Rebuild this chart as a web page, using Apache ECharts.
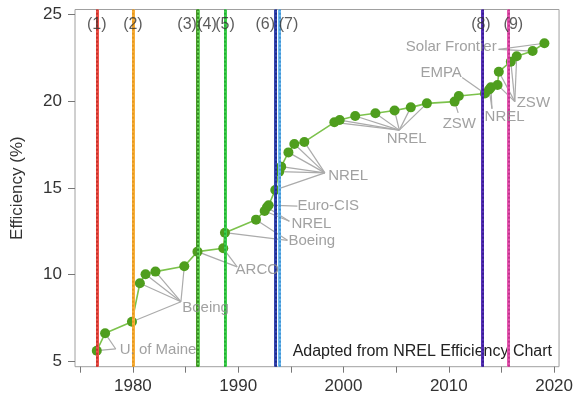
<!DOCTYPE html>
<html><head><meta charset="utf-8">
<script src="https://cdn.jsdelivr.net/npm/echarts@6/dist/echarts.min.js"></script>
<style>html,body{margin:0;padding:0;background:#fff}#c{width:576px;height:400px}</style>
</head><body><div id="c"></div>
<script>
// Record efficiency data points (year, efficiency %)
const years = [1976.57,1977.36,1979.91,1980.66,1981.20,1982.14,1984.88,1986.13,1988.58,1988.74,1991.69,1992.51,1992.73,1992.89,1993.52,1993.89,1994.08,1994.77,1995.33,1996.28,1999.13,1999.64,2001.11,2003.03,2004.85,2006.39,2007.92,2010.55,2010.95,2013.43,2013.84,2014.00,2014.63,2014.75,2015.89,2016.45,2017.96,2019.08];
const effs  = [5.63,6.63,7.30,9.51,10.03,10.18,10.49,11.33,11.52,12.42,13.17,13.67,13.88,14.00,14.88,15.93,16.22,17.04,17.52,17.64,18.77,18.90,19.13,19.29,19.45,19.63,19.86,19.96,20.28,20.43,20.66,20.78,20.92,21.68,22.26,22.57,22.87,23.32];

// Vertical event markers
const markerYears  = [1976.57,1980.0,1986.13,1986.17,1988.74,1993.52,1993.93,2013.21,2015.66];
const markerColors = ['#ec5048','#f7ad38','#4a9626','#6ad65a','#3fd04e','#3444b0','#6cbaf0','#5530b8','#e456ae'];
const markerDots   = ['#b01e18','#d98a10','#1f5c0a','#2f8f20','#139a25','#101c70','#2a7ac0','#28107a','#a8207a'];
const markerLabels = ['(1)','(2)','(3)','(4)','(5)','(6)','(7)','(8)','(9)'];
const markerLabelX = [1976.57,1980.0,1985.15,1987.04,1988.74,1992.57,1994.77,2013.05,2016.13];
const markerLabelY = 24.42;

// Annotations
const annNames  = ['U. of Maine','Boeing','ARCO','Boeing','NREL','Euro-CIS','NREL','NREL','ZSW','EMPA','NREL','ZSW','Solar Frontier'];
const annTextX  = [1978.75,1984.68,1989.75,1994.77,1995.05,1995.62,1998.54,2006.0,2011.0,2009.27,2015.3,2016.45,2014.55];
const annTextY  = [5.69,8.09,10.27,11.96,12.90,13.95,15.68,17.79,18.67,21.62,19.06,19.90,23.12];
const annAlign  = ['left','left','left','left','left','left','left','center','center','center','center','left','right'];
const annAnchorX = [1978.37,1984.56,1989.90,1994.68,1994.86,1995.62,1998.23,2005.30,2010.89,2011.27,2014.10,2016.27,2014.73];
const annAnchorY = [5.73,8.45,10.45,11.98,13.08,13.95,15.86,18.32,19.31,21.35,19.55,19.96,22.97];
const annPoints  = [[0,1],[2,3,4,5,6],[7,8],[9,10],[11,12],[13],[14,15,16,17,18,19],[20,21,22,23,24,25,26],[27],[29],[30,31],[32,33,34,35],[36,37]];

const xTicks = [1975,1980,1985,1990,1995,2000,2005,2010,2015,2020];
const xLabels = [1980,1990,2000,2010,2020];
const yTicks = [5,10,15,20,25];

const pts = years.map((y,i)=>[y,effs[i]]);
const leaderData = [];
annPoints.forEach((idxs,a)=>{
  idxs.forEach(i=>leaderData.push({coords:[[years[i],effs[i]],[annAnchorX[a],annAnchorY[a]]]}));
});

const markBase = markerYears.map((x,i)=>({xAxis:x,lineStyle:{color:markerColors[i],width:3,type:'solid'}}));
const markDots = markerYears.map((x,i)=>({xAxis:x,lineStyle:{color:markerDots[i],width:2,type:[2,2],opacity:0.6}}));

const FONT = 'Liberation Sans, Arial, sans-serif';
const chart = echarts.init(document.getElementById('c'),null,{renderer:'canvas'});
chart.setOption({
  animation:false,
  grid:{left:75,right:13.3,top:9.5,bottom:33.3,show:true,borderColor:'#a0a0a0',borderWidth:1,backgroundColor:'transparent'},
  xAxis:{type:'value',min:1974.5,max:2020.47,
    axisLine:{show:false},splitLine:{show:false},
    axisTick:{show:true,length:6,lineStyle:{color:'#777'},customValues:xTicks},
    axisLabel:{color:'#333',fontSize:17,fontFamily:FONT,margin:11,customValues:xLabels,formatter:v=>String(v)}},
  yAxis:{type:'value',min:4.71,max:25.26,
    name:'Efficiency (%)',nameLocation:'middle',nameGap:49,nameTextStyle:{color:'#333',fontSize:17,fontFamily:FONT},
    axisLine:{show:false},splitLine:{show:false},
    axisTick:{show:true,length:7,lineStyle:{color:'#777'},customValues:yTicks},
    axisLabel:{color:'#333',fontSize:17,fontFamily:FONT,margin:13,customValues:yTicks,formatter:v=>String(v)}},
  series:[
    {type:'line',data:[],silent:true,z:1,markLine:{silent:true,symbol:'none',label:{show:false},data:markBase,animation:false}},
    {type:'line',data:[],silent:true,z:2,markLine:{silent:true,symbol:'none',label:{show:false},data:markDots,animation:false}},
    {type:'lines',coordinateSystem:'cartesian2d',z:3,silent:true,polyline:false,
      lineStyle:{color:'#ababab',width:1.2,opacity:1},data:leaderData},
    {type:'line',data:pts,z:4,symbol:'circle',symbolSize:10,showSymbol:true,
      lineStyle:{color:'#7cc24c',width:1.6},itemStyle:{color:'#4f9e1e',borderWidth:0}},
    {type:'scatter',z:5,symbolSize:0,silent:true,
      data:annNames.map((n,i)=>({value:[annTextX[i],annTextY[i]],name:n,
        label:{show:true,formatter:n,position:'inside',align:annAlign[i],verticalAlign:'middle',
          color:'#8a8a8a',fontSize:15,fontFamily:FONT}}))},
    {type:'scatter',z:6,symbolSize:0,silent:true,
      data:markerLabels.map((n,i)=>({value:[markerLabelX[i],markerLabelY],
        label:{show:true,formatter:n,position:'inside',align:'center',verticalAlign:'middle',
          color:'#333',fontSize:16,fontFamily:FONT}}))}
  ],
  graphic:[{type:'text',right:24,top:344,style:{text:'Adapted from NREL Efficiency Chart',fill:'#222',fontSize:16,fontFamily:FONT}}]
});
</script></body></html>
